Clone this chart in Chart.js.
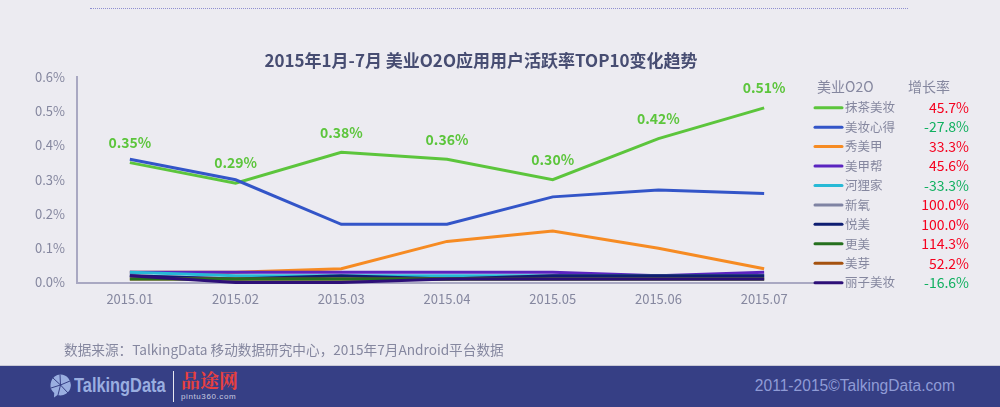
<!DOCTYPE html>
<html>
<head>
<meta charset="utf-8">
<script src="https://cdn.jsdelivr.net/npm/chart.js@4/dist/chart.umd.min.js"></script>
<style>
    html, body { margin: 0; padding: 0; background: #ecebf1; overflow: hidden; }
    #page { position: relative; width: 1000px; height: 407px; font-family: "Noto Sans CJK SC", "Noto Sans", sans-serif; }
    #chart { position: absolute; left: 0; top: 0; }
    .dots { position: absolute; left: 90px; top: 8px; width: 818px; border-top: 1px dotted #8f8fd0; }
    .title { position: absolute; left: 181px; top: 49px; width: 600px; text-align: center; font-size: 17px; font-weight: bold; line-height: 22px; color: #474d72; white-space: nowrap; }
    .source { position: absolute; left: 64px; top: 339px; font-size: 13.65px; line-height: 20px; color: #85879f; white-space: nowrap; }
    .footer { position: absolute; left: 0; top: 365px; width: 1000px; height: 42px; background: #363f85; border-top: 1px solid #c9c9d6; box-sizing: border-box; }
    .brand { position: absolute; left: 74px; top: 3px; font: bold 21px/32px "Liberation Sans", sans-serif; color: #9aaee0; transform: scaleX(0.78); transform-origin: left center; }
    .divider { position: absolute; left: 173px; top: 5px; width: 1px; height: 31px; background: #e8e8f0; }
    .pintu { position: absolute; left: 181px; top: 2px; font: bold 19px/24px "Noto Serif CJK SC", "Noto Sans CJK SC", serif; color: #e8403f; white-space: nowrap; }
    .pintu-url { position: absolute; left: 181px; top: 26px; font: 8px/10px "Liberation Sans", sans-serif; letter-spacing: 0.6px; color: #c8cbe0; }
    .copy { position: absolute; right: 45px; top: 10px; font: 15.6px/20px "Liberation Sans", sans-serif; color: #8f9bd6; white-space: nowrap; }
    svg.logo { position: absolute; left: 49px; top: 8px; }
</style>
</head>
<body>
<div id="page">
    <div class="dots"></div>
    <canvas id="chart" width="1000" height="407"></canvas>
    <div class="title">2015年1月-7月 美业O2O应用用户活跃率TOP10变化趋势</div>
    <div class="source">数据来源：TalkingData 移动数据研究中心，2015年7月Android平台数据</div>
    <div class="footer">
        <svg class="logo" width="23" height="24" viewBox="0 0 23 24">
            <path d="M11.5 0.5a10.5 10.5 0 1 1-3 20.6L5 23.5l0.2-4.6A10.5 10.5 0 0 1 11.5 0.5z" fill="#9aaee0"/>
            <path d="M11.5 11L11 0.5M11.5 11L21 7M11.5 11L19 19M11.5 11L9 21M11.5 11L2 14M11.5 11L4 4" stroke="#363f85" stroke-width="1"/>
        </svg>
        <div class="brand">TalkingData</div>
        <div class="divider"></div>
        <div class="pintu">品途网</div>
        <div class="pintu-url">pintu360.com</div>
        <div class="copy">2011-2015©TalkingData.com</div>
    </div>
</div>
<script>
    const months = ['2015.01', '2015.02', '2015.03', '2015.04', '2015.05', '2015.06', '2015.07'];
    const yTicks = [0, 0.1, 0.2, 0.3, 0.4, 0.5, 0.6];

    const names = ['抹茶美妆', '美妆心得', '秀美甲', '美甲帮', '河狸家', '新氧', '悦美', '更美', '美芽', '丽子美妆'];
    const growth = ['45.7%', '-27.8%', '33.3%', '45.6%', '-33.3%', '100.0%', '100.0%', '114.3%', '52.2%', '-16.6%'];
    const colors = ['#5cc53c', '#3355c8', '#f68b23', '#5a24c0', '#27b9d6', '#7f83a3', '#0e1e72', '#25701e', '#a5520f', '#2d0f78'];
    // lower number is painted on top; green 更美 covers brown 美芽 in the original
    const paintOrder = [10, 9, 8, 7, 6, 5, 4, 2, 3, 1];

    const moCha = [0.35, 0.29, 0.38, 0.36, 0.30, 0.42, 0.51];
    const meiZhuang = [0.36, 0.30, 0.17, 0.17, 0.25, 0.27, 0.26];
    const xiuMeiJia = [0.03, 0.03, 0.04, 0.12, 0.15, 0.10, 0.04];
    const meiJiaBang = [0.03, 0.03, 0.03, 0.03, 0.03, 0.02, 0.03];
    const heLiJia = [0.03, 0.02, 0.02, 0.02, 0.02, 0.02, 0.02];
    const xinYang = [0.02, 0.01, 0.01, 0.01, 0.02, 0.02, 0.02];
    const yueMei = [0.02, 0.01, 0.02, 0.01, 0.02, 0.02, 0.02];
    const gengMei = [0.01, 0.01, 0.01, 0.01, 0.01, 0.01, 0.01];
    const meiYa = [0.01, 0.01, 0.01, 0.01, 0.01, 0.01, 0.01];
    const liZi = [0.02, 0, 0, 0.01, 0.01, 0.01, 0.01];
    const allSeries = [moCha, meiZhuang, xiuMeiJia, meiJiaBang, heLiJia, xinYang, yueMei, gengMei, meiYa, liZi];

    const cjkFont = '"Noto Sans CJK SC", "Noto Sans", sans-serif';

    // green value labels above the top series
    const valueLabels = {
        id: 'valueLabels',
        afterDatasetsDraw(chart) {
            const ctx = chart.ctx;
            const meta = chart.getDatasetMeta(0);
            ctx.save();
            ctx.font = 'bold 14px ' + cjkFont;
            ctx.fillStyle = colors[0];
            ctx.textAlign = 'center';
            ctx.textBaseline = 'middle';
            meta.data.forEach((point, i) => {
                ctx.fillText(moCha[i].toFixed(2) + '%', point.x, point.y - 20);
            });
            ctx.restore();
        },
    };

    // legend table on the right, with the growth rate column
    const sideTable = {
        id: 'sideTable',
        afterDraw(chart) {
            const ctx = chart.ctx;
            ctx.save();
            ctx.textBaseline = 'middle';
            ctx.font = '14px ' + cjkFont;
            ctx.fillStyle = '#85879f';
            ctx.fillText('美业O2O', 817, 87);
            ctx.fillText('增长率', 908, 87);
            names.forEach((name, i) => {
                const y = 107.7 + i * 19.44;
                ctx.strokeStyle = colors[i];
                ctx.lineWidth = 3;
                ctx.lineCap = 'round';
                ctx.beginPath();
                ctx.moveTo(815, y);
                ctx.lineTo(842, y);
                ctx.stroke();
                ctx.textAlign = 'left';
                ctx.fillStyle = '#85879f';
                ctx.font = '12.5px ' + cjkFont;
                ctx.fillText(name, 845, y);
                ctx.textAlign = 'right';
                ctx.fillStyle = growth[i].startsWith('-') ? '#10b060' : '#f5001e';
                ctx.font = '14px ' + cjkFont;
                ctx.fillText(growth[i], 969, y);
            });
            ctx.restore();
        },
    };

    new Chart(document.getElementById('chart').getContext('2d'), {
        type: 'line',
        data: {
            labels: months,
            datasets: allSeries.map((values, i) => ({
                label: names[i],
                data: values,
                borderColor: colors[i],
                borderWidth: 3,
                pointRadius: 0,
                tension: 0,
                order: paintOrder[i],
                borderCapStyle: 'butt',
            })),
        },
        options: {
            responsive: false,
            animation: false,
            devicePixelRatio: 1,
            clip: false,
            layout: {
                padding: { left: 0, right: 183, top: 77, bottom: 0 },
            },
            plugins: {
                legend: { display: false },
                tooltip: { enabled: false },
                title: { display: false },
            },
            scales: {
                x: {
                    offset: true,
                    grid: { display: false },
                    border: { color: '#a9a8c2', width: 2 },
                    afterFit(scale) { scale.height = 124.5; },
                    ticks: {
                        color: '#85879f',
                        padding: 1,
                        maxRotation: 0,
                        font: { family: cjkFont, size: 13 },
                    },
                },
                y: {
                    min: 0,
                    max: 0.6,
                    grid: { display: false },
                    border: { color: '#a9a8c2', width: 2 },
                    afterFit(scale) { scale.width = 77; },
                    afterBuildTicks(scale) { scale.ticks = yTicks.map((value) => ({ value })); },
                    ticks: {
                        color: '#85879f',
                        padding: 4,
                        font: { family: cjkFont, size: 13 },
                        callback: (value) => value.toFixed(1) + '%',
                    },
                },
            },
        },
        plugins: [valueLabels, sideTable],
    });
</script>
</body>
</html>
